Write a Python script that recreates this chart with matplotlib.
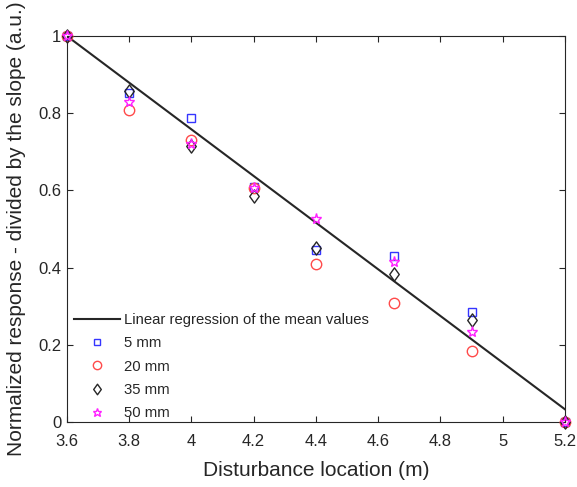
import matplotlib
matplotlib.use("Agg")
import matplotlib.pyplot as plt
from matplotlib.ticker import FuncFormatter
from matplotlib.path import Path

plt.rcParams['font.family'] = ['Liberation Sans', 'DejaVu Sans']

x = [3.6, 3.8, 4.0, 4.2, 4.4, 4.65, 4.9, 5.2]
y_5mm = [1.0, 0.852, 0.787, 0.610, 0.445, 0.430, 0.285, 0.0]
y_20mm = [1.0, 0.808, 0.730, 0.605, 0.410, 0.308, 0.183, 0.0]
y_35mm = [1.0, 0.858, 0.715, 0.585, 0.450, 0.383, 0.264, 0.0]
y_50mm = [1.0, 0.830, 0.720, 0.607, 0.525, 0.415, 0.233, 0.0]
reg_x = [3.6, 5.2]
reg_y = [1.0, 0.033]

xticks = [3.6, 3.8, 4.0, 4.2, 4.4, 4.6, 4.8, 5.0, 5.2]
yticks = [0, 0.2, 0.4, 0.6, 0.8, 1.0]

diamond = Path([(0, 1), (0.72, 0), (0, -1), (-0.72, 0), (0, 1)],
               [Path.MOVETO, Path.LINETO, Path.LINETO, Path.LINETO, Path.CLOSEPOLY])

fig = plt.figure(figsize=(5.77, 4.87), dpi=100)
ax = fig.add_axes([0.116, 0.1335, 0.863, 0.7925])

ax.plot(reg_x, reg_y, color='#262626', lw=1.5, label='Linear regression of the mean values', zorder=2)
ax.plot(x, y_5mm, ls='none', marker='s', ms=5.5, mfc='none', mec='#3535ff', mew=1.0, label='5 mm', zorder=3, clip_on=False)
ax.plot(x, y_20mm, ls='none', marker='o', ms=7.5, mfc='none', mec='#ff4a4a', mew=1.0, label='20 mm', zorder=3, clip_on=False)
ax.plot(x, y_35mm, ls='none', marker=diamond, ms=9.5, mfc='none', mec='#262626', mew=1.0, label='35 mm', zorder=3, clip_on=False)
ax.plot(x, y_50mm, ls='none', marker='*', ms=8, mfc='none', mec='#ff20ff', mew=1.0, label='50 mm', zorder=3, clip_on=False)

ax.set_xlim(3.6, 5.2)
ax.set_ylim(0, 1)
ax.set_xticks(xticks)
ax.set_yticks(yticks)
fmt = FuncFormatter(lambda v, p: f"{v:g}")
ax.xaxis.set_major_formatter(fmt)
ax.yaxis.set_major_formatter(fmt)
ax.tick_params(direction='in', top=True, right=True, length=4, width=0.8,
               labelsize=12, colors='#262626')
ax.tick_params(axis='x', pad=9)
ax.tick_params(axis='y', pad=4)
for s in ax.spines.values():
    s.set_color('#262626')
    s.set_linewidth(0.8)

ax.set_xlabel('Disturbance location (m)', fontsize=15, color='#262626', labelpad=8)
ax.set_ylabel('Normalized response - divided by the slope (a.u.)', fontsize=15, color='#262626', labelpad=9)

leg = ax.legend(loc='lower left', bbox_to_anchor=(0.0, -0.012), frameon=False, fontsize=10.7,
                handlelength=3.1, handletextpad=0.3, labelspacing=0.62, borderaxespad=0.05,
                markerscale=0.8, labelcolor='#262626')

fig.savefig('out.png', dpi=100)
